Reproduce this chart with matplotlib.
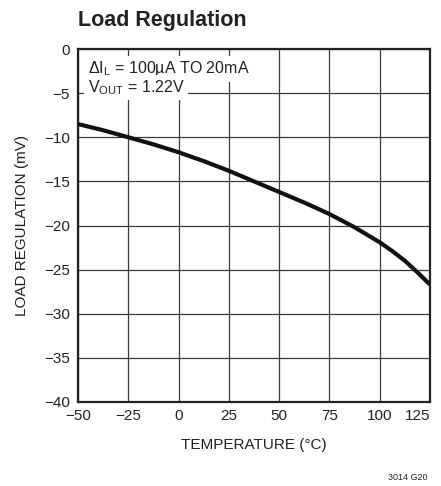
import matplotlib.pyplot as plt
import numpy as np

plt.rcParams['font.family'] = ['Liberation Sans', 'DejaVu Sans']
plt.rcParams['mathtext.fontset'] = 'custom'
plt.rcParams['mathtext.rm'] = 'Liberation Sans'

# valores
temp = [-50, -37.5, -25, -12.5, 0, 12.5, 25, 37.5, 50, 62.5, 75, 87.5, 100, 106.25, 112.5, 118.75, 125]
reg = [-8.5, -9.2, -10.0, -10.8, -11.7, -12.7, -13.8, -15.0, -16.2, -17.4, -18.7, -20.2, -21.9,
       -22.9, -24.0, -25.3, -26.7]

xticks = [-50, -25, 0, 25, 50, 75, 100, 125]
xlabels = ['\u221250', '\u221225', '0', '25', '50', '75', '100', '125']
yticks = [0, -5, -10, -15, -20, -25, -30, -35, -40]
ylabels = ['0', '\u22125', '\u221210', '\u221215', '\u221220', '\u221225', '\u221230', '\u221235', '\u221240']

fig = plt.figure(figsize=(4.41, 4.86), dpi=100)
ax = fig.add_axes([0.177, 0.173, 0.798, 0.726])

ax.plot(temp, reg, color='#111111', lw=3.0, zorder=5, solid_capstyle='butt')

ax.set_xlim(-50, 125)
ax.set_ylim(-40, 0)
ax.set_xticks(xticks)
ax.set_xticklabels(xlabels)
ax.set_yticks(yticks)
ax.set_yticklabels(ylabels)
ax.tick_params(length=0, labelsize=11, colors='#222222')
ax.tick_params(axis='x', pad=5)
ax.tick_params(axis='y', pad=6)
ax.get_xticklabels()[-1].set_ha('right')
ax.grid(True, color='#3a3a3a', lw=0.9)
ax.set_axisbelow(True)
for s in ax.spines.values():
    s.set_linewidth(1.6)
    s.set_color('#222222')

ax.set_xlabel('TEMPERATURE (\u00b0C)', fontsize=11, color='#222222', labelpad=11)
ax.set_ylabel('LOAD REGULATION (mV)', fontsize=11, color='#222222', labelpad=11)

box = dict(facecolor='white', edgecolor='none', pad=2.5)
ax.text(0.027, 0.932, '\u0394I$_\\mathregular{L}$ = 100\u00b5A TO 20mA', transform=ax.transAxes,
        fontsize=11.5, va='baseline', ha='left', bbox=box, zorder=3, color='#222222')
ax.text(0.027, 0.878, 'V$_\\mathregular{OUT}$ = 1.22V', transform=ax.transAxes,
        fontsize=11.5, va='baseline', ha='left', bbox=box, zorder=3, color='#222222')

fig.text(0.177, 0.958, 'Load Regulation', fontsize=15.5, fontweight='bold', ha='left', va='center', color='#222222')
fig.text(0.97, 0.008, '3014 G20', fontsize=6.5, ha='right', va='bottom', color='#222222')

fig.savefig('out.png', dpi=100)
